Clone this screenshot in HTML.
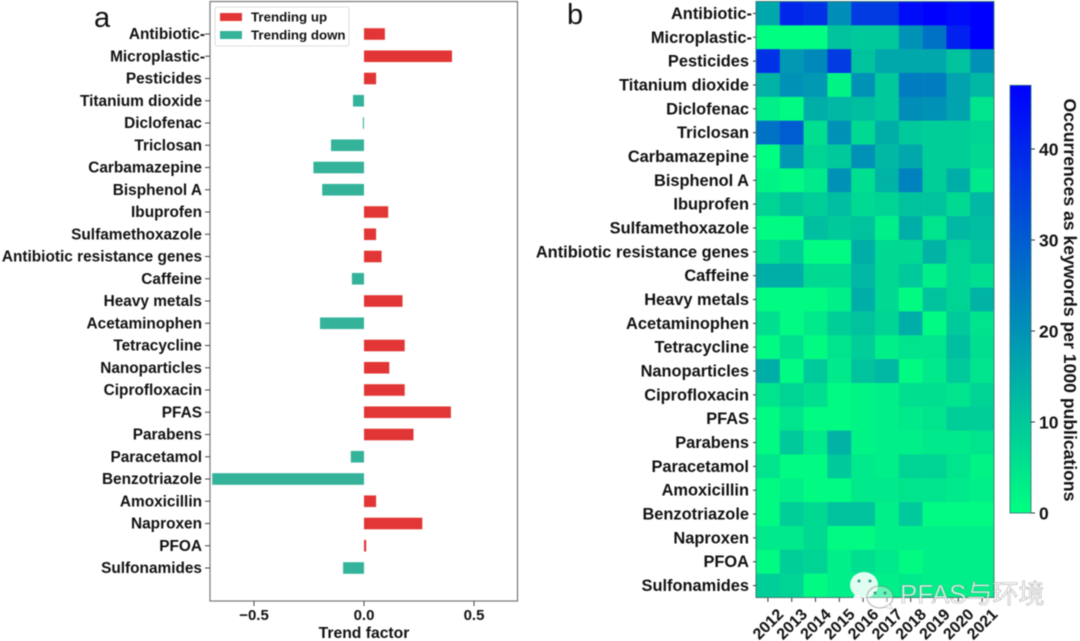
<!DOCTYPE html>
<html lang="en">
<head>
<meta charset="utf-8">
<title>Trend factor and keyword occurrences</title>
<style>
html,body{margin:0;padding:0;background:#fff;width:1080px;height:641px;overflow:hidden}
svg{display:block;filter:blur(0.5px)}
text{font-family:"Liberation Sans","Noto Sans CJK SC",sans-serif;font-weight:bold;fill:#111}
</style>
</head>
<body>
<svg id="chart" xmlns="http://www.w3.org/2000/svg" width="1080" height="641" viewBox="0 0 1080 641"></svg>
<script>
const trendCategories = ["Antibiotic-","Microplastic-","Pesticides","Titanium dioxide","Diclofenac","Triclosan","Carbamazepine","Bisphenol A","Ibuprofen","Sulfamethoxazole","Antibiotic resistance genes","Caffeine","Heavy metals","Acetaminophen","Tetracycline","Nanoparticles","Ciprofloxacin","PFAS","Parabens","Paracetamol","Benzotriazole","Amoxicillin","Naproxen","PFOA","Sulfonamides"];
const trendValues = [0.095,0.4,0.055,-0.05,-0.005,-0.15,-0.23,-0.19,0.11,0.055,0.08,-0.055,0.175,-0.2,0.185,0.115,0.185,0.395,0.225,-0.06,-0.69,0.055,0.265,0.01,-0.095];
const trendTicks = [-0.5,0,0.5];
const trendTickLabels = ["\u22120.5","0.0","0.5"];
const heatCategories = ["Antibiotic-","Microplastic-","Pesticides","Titanium dioxide","Diclofenac","Triclosan","Carbamazepine","Bisphenol A","Ibuprofen","Sulfamethoxazole","Antibiotic resistance genes","Caffeine","Heavy metals","Acetaminophen","Tetracycline","Nanoparticles","Ciprofloxacin","PFAS","Parabens","Paracetamol","Amoxicillin","Benzotriazole","Naproxen","PFOA","Sulfonamides"];
const years = ["2012","2013","2014","2015","2016","2017","2018","2019","2020","2021"];
const heatValues = [
[16,40,38,21,36,36,45,47,45,47],
[0,0,0,11,10,10,20,26,41,47],
[38,19,22,36,11,16,16,16,11,20],
[14,20,19,2,20,10,24,24,17,13],
[3,1,15,13,12,10,21,20,17,5],
[26,30,6,20,7,15,10,9,9,8],
[0,19,8,10,20,13,16,9,9,7],
[2,1,4,20,6,14,23,9,15,4],
[8,11,9,12,7,8,11,11,7,13],
[1,1,12,10,11,3,15,5,13,12],
[6,9,1,1,15,7,7,14,8,11],
[15,15,7,7,13,7,10,3,8,6],
[1,1,1,3,15,7,1,11,8,14],
[6,1,4,9,11,8,15,1,10,5],
[1,6,1,5,9,3,5,5,12,6],
[15,1,10,4,11,13,1,4,10,5],
[5,8,6,1,2,3,6,6,5,8],
[1,5,1,1,2,3,4,5,9,9],
[1,10,4,14,2,3,3,4,4,5],
[5,1,1,10,4,3,8,8,5,2],
[1,3,1,1,4,4,5,5,4,3],
[1,9,7,11,11,3,10,1,1,1],
[4,4,7,1,1,3,3,3,3,3],
[1,9,8,3,6,4,1,3,3,3],
[9,8,1,3,3,3,4,3,3,3]
];
const colorbarTicks = [0,10,20,30,40];
const heatMax = 47;

const NS = "http://www.w3.org/2000/svg";
const svg = document.getElementById("chart");
function make(tag, attrs, parent, txt) {
  const e = document.createElementNS(NS, tag);
  for (const k in attrs) e.setAttribute(k, attrs[k]);
  if (txt !== undefined) e.textContent = txt;
  (parent || svg).appendChild(e);
  return e;
}
function group(name) {
  const g = make("g", {});
  
  
  return g;
}
/* axis functions */
const trendX = v => 364 + v * 220;
const trendY = i => 34 + i * 22.25;
const heatL = 756, heatT = 1.5, cellW = 23.8, cellH = 23.84;
const heatX = i => heatL + i * cellW;
const heatY = i => heatT + i * cellH;
const cbarY = v => 513 - v * 9.1;
function heatColor(v) {
  const t = Math.max(0, Math.min(1, v / heatMax));
  return "rgb(0," + Math.round(255 * (1 - t)) + "," + Math.round(127.5 + 127.5 * t) + ")";
}

/* panel letters */
const la = make("text", {x: 94, y: 27, style: "font-size:29px;font-weight:normal"}, svg, "a");


const lb = make("text", {x: 567, y: 24, style: "font-size:29px;font-weight:normal"}, svg, "b");



/* panel a */
const barsG = group('trend-bars');
trendValues.forEach((v, i) => {
  const x0 = trendX(0), x1 = trendX(v);
  const r = make("rect", {x: Math.min(x0, x1), y: trendY(i) - 5.8, width: Math.max(Math.abs(x1 - x0), 0.8), height: 11.6, fill: v >= 0 ? "#e23636" : "#35b39a"}, barsG);
  
  
});
const frameA = make("rect", {x: 210, y: 1.5, width: 307.5, height: 599.5, fill: "none", stroke: "#777", "stroke-width": 1.2});



const yA = group('trend-y-axis');
trendCategories.forEach((c, i) => {
  make("line", {x1: 205, x2: 210, y1: trendY(i), y2: trendY(i), stroke: "#444", "stroke-width": 1}, yA);
  const t = make("text", {x: c.endsWith("-") ? 205 : 202, y: trendY(i) + 5, "text-anchor": "end", "font-size": 15.4}, yA, c);
  
  
});
const xA = group('trend-x-axis');
trendTicks.forEach((v, i) => {
  make("line", {x1: trendX(v), x2: trendX(v), y1: 601, y2: 606, stroke: "#444", "stroke-width": 1}, xA);
  const t = make("text", {x: trendX(v), y: 620, "text-anchor": "middle", "font-size": 15}, xA, trendTickLabels[i]);
  
  
});
const xTitle = make("text", {x: 364, y: 638, "text-anchor": "middle", "font-size": 15.7}, svg, "Trend factor");



/* legend */
const legend = group('trend-legend');
make("rect", {x: 215, y: 7, width: 134, height: 39, rx: 2, fill: "#fff", stroke: "#ddd", "stroke-width": 1}, legend);
const swUp = make("rect", {x: 220, y: 13, width: 22, height: 8, fill: "#e23636"}, legend);


const swDown = make("rect", {x: 220, y: 31, width: 22, height: 8, fill: "#35b39a"}, legend);


const txUp = make("text", {x: 251, y: 21.5, "font-size": 13.3}, legend, "Trending up");


const txDown = make("text", {x: 251, y: 39.5, "font-size": 13.3}, legend, "Trending down");



/* panel b */
const cellsG = group('heatmap-cells');
heatValues.forEach((row, r) => {
  row.forEach((v, c) => {
    const cell = make("rect", {x: heatX(c), y: heatY(r), width: cellW + 0.3, height: cellH + 0.3, fill: heatColor(v)}, cellsG);
    
    
  });
});
const frameB = make("rect", {x: heatL, y: heatT, width: cellW * 10, height: cellH * 25, fill: "none", stroke: "#3f7f75", "stroke-width": 1});



const yB = group('heatmap-y-axis');
heatCategories.forEach((c, i) => {
  const cy = heatY(i) + cellH / 2;
  make("line", {x1: 753, x2: 756, y1: cy, y2: cy, stroke: "#333", "stroke-width": 1}, yB);
  const t = make("text", {x: c.endsWith("-") ? 752 : 749, y: cy + 5.5, "text-anchor": "end", "font-size": 16.4}, yB, c);
  
  
});
const xB = group('heatmap-x-axis');
years.forEach((y, i) => {
  const cx = heatX(i) + cellW / 2;
  make("line", {x1: cx, x2: cx, y1: 598, y2: 602, stroke: "#333", "stroke-width": 1}, xB);
  const t = make("text", {x: 0, y: 5.5, "text-anchor": "middle", "font-size": 16, transform: "translate(" + cx + " 624) rotate(-45)"}, xB, y);
  
  
});

/* colorbar */
const defs = make("defs", {});
const grad = make("linearGradient", {id: "cbar", x1: 0, y1: 1, x2: 0, y2: 0}, defs);
make("stop", {offset: "0%", "stop-color": heatColor(0)}, grad);
make("stop", {offset: "100%", "stop-color": heatColor(heatMax)}, grad);
const cbar = group('colorbar');
make("rect", {x: 1010, y: cbarY(heatMax), width: 21, height: cbarY(0) - cbarY(heatMax), fill: "url(#cbar)", stroke: "#2c6f70", "stroke-width": 0.8}, cbar);
colorbarTicks.forEach(v => {
  make("line", {x1: 1031, x2: 1035, y1: cbarY(v), y2: cbarY(v), stroke: "#333", "stroke-width": 1}, cbar);
  const t = make("text", {x: 1039, y: cbarY(v) + 6.5, "font-size": 17.5}, cbar, String(v));
  
  
});
const cbTitle = make("text", {x: 1064, y: 300, "text-anchor": "middle", "font-size": 17.6, transform: "rotate(90 1064 300)"}, svg, "Occurrences as keywords per 1000 publications");



/* watermark */
const wm = group('watermark');
make("ellipse", {cx: 864, cy: 585, rx: 14, ry: 13, fill: "#fff", "fill-opacity": 0.88}, wm);
make("path", {d: "M855 594 L852 601 L862 597 Z", fill: "#fff", "fill-opacity": 0.88}, wm);
make("ellipse", {cx: 880, cy: 597, rx: 13, ry: 11, fill: "#fff", "fill-opacity": 0.4, stroke: "#777", "stroke-opacity": 0.6, "stroke-width": 1}, wm);
make("path", {d: "M884 607 L892 609 L890 604 Z", fill: "#fff", "fill-opacity": 0.7, stroke: "#777", "stroke-opacity": 0.5, "stroke-width": 0.6}, wm);
[[859,581],[870,581],[875,593],[885,593]].forEach(p => {
  make("circle", {cx: p[0], cy: p[1], r: 1.5, fill: "#3a9a80"}, wm);
});
const wmText = make("text", {x: 900, y: 603, "font-size": 26, style: "font-weight:normal;fill:#fff;fill-opacity:.75;stroke:#777;stroke-opacity:.6;stroke-width:.6"}, wm, "PFAS与环境");


</script>
</body>
</html>
